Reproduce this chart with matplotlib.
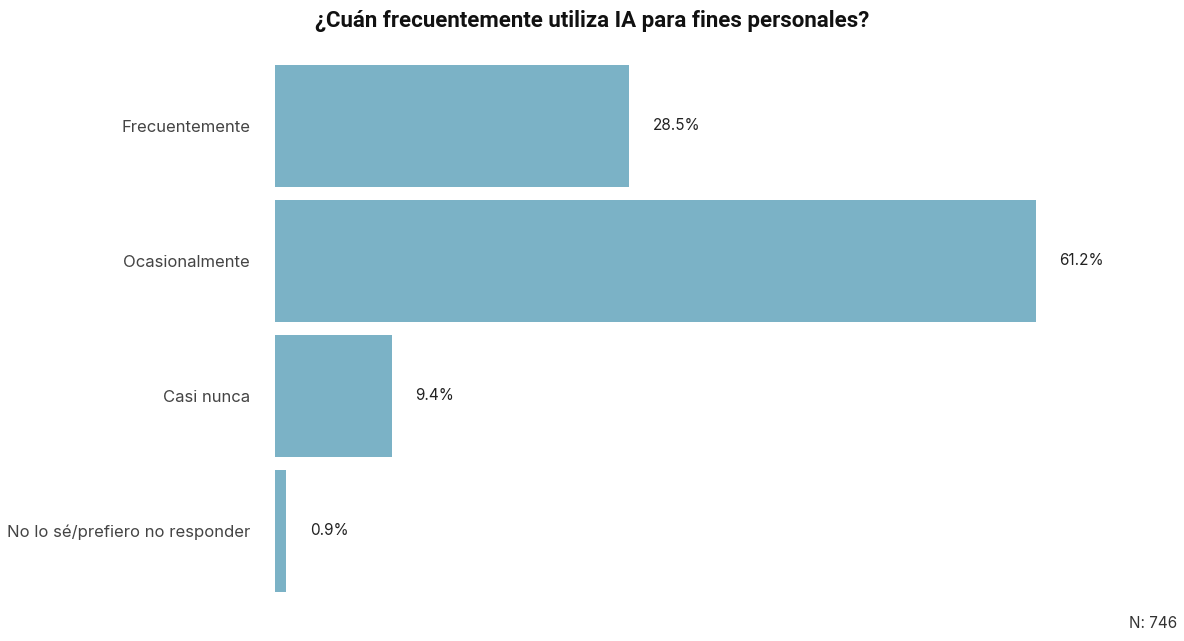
import matplotlib
matplotlib.use("Agg")
import matplotlib.pyplot as plt

# datos
categorias = ["Frecuentemente", "Ocasionalmente", "Casi nunca", "No lo sé/prefiero no responder"]
valores = [28.5, 61.2, 9.4, 0.9]
etiquetas = ["28.5%", "61.2%", "9.4%", "0.9%"]
titulo = "¿Cuán frecuentemente utiliza IA para fines personales?"
nota = "N: 746"

color_barra = "#7BB2C6"

plt.rcParams["font.family"] = ["Inter", "DejaVu Sans"]

fig = plt.figure(figsize=(11.84, 6.41), dpi=100)
ax = fig.add_axes([0.2323, 0.0772, 0.739, 0.821])

pos = list(range(len(categorias)))
ax.barh(pos, valores, height=0.9, color=color_barra)
for p, v, e in zip(pos, valores, etiquetas):
    ax.text(v + 1.9, p, e, va="center", ha="left", fontsize=11, color="#222222")

ax.set_xlim(0, 70.4)
ax.set_ylim(3.45, -0.45)
ax.set_yticks(pos)
ax.set_yticklabels(categorias, fontsize=12, color="#444444")
ax.tick_params(axis="y", length=0, pad=18)
ax.set_xticks([])
for s in ax.spines.values():
    s.set_visible(False)

fig.text(0.5, 0.968, titulo, ha="center", va="center", fontsize=16, fontweight="bold",
         color="#111111", family=["Roboto", "DejaVu Sans"])
fig.text(0.994, 0.015, nota, ha="right", va="bottom", fontsize=11, color="#333333")

fig.savefig("out.png", dpi=100, facecolor="white")
